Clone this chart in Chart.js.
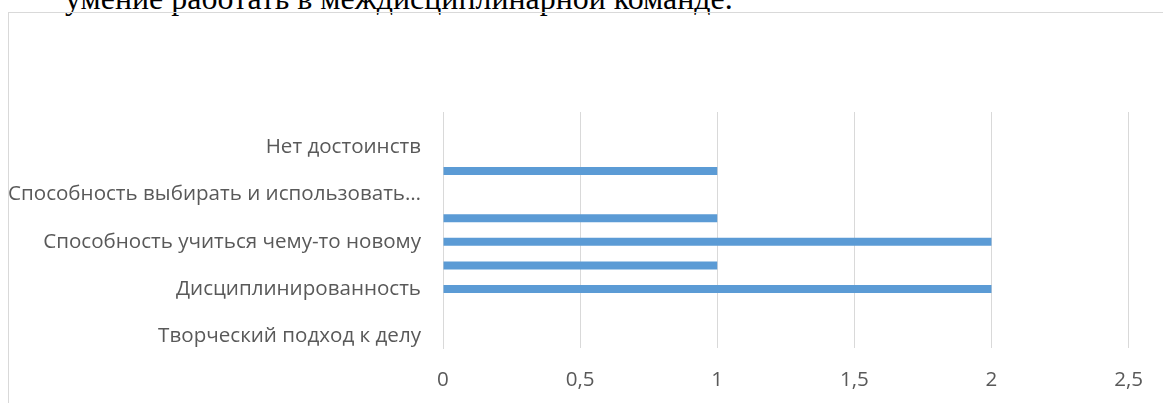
<!DOCTYPE html>
<html lang="ru">
<head>
    <meta charset="UTF-8">
    <meta name="viewport" content="width=device-width, initial-scale=1.0">
    <title>Достоинства специалиста</title>
    <script src="https://cdn.jsdelivr.net/npm/chart.js"></script>
    <style>
        html, body { margin: 0; padding: 0; background: #fff; overflow: hidden; }
        body { width: 1163px; height: 403px; position: relative; }
        #docText { position: absolute; left: 65px; white-space: nowrap; color: #000;
                   font-family: "Liberation Serif", "Times New Roman", serif; }
        #frame { position: absolute; left: 8px; top: 12px; width: 1300px; height: 600px;
                 border: 1px solid #d9d9d9; box-sizing: border-box; }
        #wrap { position: absolute; left: 0; top: 0; width: 1163px; height: 403px; }
    </style>
</head>
<body>
    <div id="docText">умение работать в междисциплинарной команде.</div>
    <div id="frame"></div>
    <div id="wrap"><canvas id="chart"></canvas></div>
    <script>
        // категории снизу вверх, как в Excel (подписи видны через одну)
        const categories = [
            'Творческий подход к делу',
            '',
            'Дисциплинированность',
            '',
            'Способность учиться чему-то новому',
            '',
            'Способность выбирать и использовать…',
            '',
            'Нет достоинств',
            ''
        ];
        const values = [0, 0, 2, 1, 2, 1, 0, 1, 0, 0];
        const tickLabels = ['0', '0,5', '1', '1,5', '2', '2,5'];

        // подбираем размер шрифта по ширине строки
        function fitFont(text, family, width) {
            const c = document.createElement('canvas').getContext('2d');
            c.font = '100px ' + family;
            return 100 * width / c.measureText(text).width;
        }

        const docText = document.getElementById('docText');
        const docSize = fitFont(docText.textContent, '"Liberation Serif"', 668);
        docText.style.fontSize = docSize + 'px';
        docText.style.lineHeight = docSize + 'px';
        docText.style.top = (9.5 - 0.8375 * docSize) + 'px';

        const tickSize = fitFont('Способность учиться чему-то новому', '"Open Sans"', 378);
        const tickFont = { family: '"Open Sans", sans-serif', size: tickSize };

        const ctx = document.getElementById('chart').getContext('2d');
        const chart = new Chart(ctx, {
            type: 'bar',
            data: {
                labels: categories,
                datasets: [{
                    data: values,
                    backgroundColor: '#5b9bd5',
                    barThickness: 8,
                    inflateAmount: 0
                }]
            },
            options: {
                indexAxis: 'y',
                responsive: true,
                maintainAspectRatio: false,
                animation: false,
                layout: { padding: { top: 112, right: 32, left: 0, bottom: 0 } },
                plugins: {
                    legend: { display: false },
                    tooltip: { enabled: false }
                },
                scales: {
                    x: {
                        min: 0,
                        max: 2.5,
                        ticks: {
                            stepSize: 0.5,
                            padding: 20,
                            color: '#595959',
                            font: tickFont,
                            callback: (v, i) => tickLabels[i]
                        },
                        grid: { color: '#d9d9d9', drawTicks: false },
                        border: { display: false },
                        afterFit: s => { s.height = 55; }
                    },
                    y: {
                        reverse: true,
                        ticks: {
                            autoSkip: false,
                            padding: 22,
                            color: '#595959',
                            font: tickFont
                        },
                        grid: { display: false, drawTicks: false },
                        border: { display: true, color: '#d9d9d9', width: 1 },
                        afterFit: s => { s.width = 443; }
                    }
                }
            }
        });
    </script>
</body>
</html>
